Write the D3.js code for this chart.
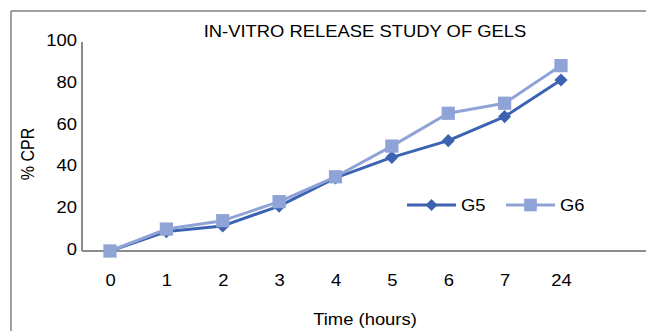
<!DOCTYPE html>
<html>
<head>
<meta charset="utf-8">
<script src="https://cdn.jsdelivr.net/npm/d3@7"></script>
<style>
  body { margin: 0; background: #fff; }
  text { font-family: "Liberation Sans", Arial, sans-serif; fill: #000; }
</style>
</head>
<body>
<div id="chart"></div>
<script>
// donnees
const heures = ["0", "1", "2", "3", "4", "5", "6", "7", "24"];
const g5 = [0, 9.3, 12, 21.5, 35, 44.8, 52.8, 64.3, 81.8];
const g6 = [0, 10.5, 14.5, 23.6, 35.5, 50.2, 65.9, 70.7, 88.7];
const yTicks = [0, 20, 40, 60, 80, 100];
const seriesNames = ["G5", "G6"];

const W = 646, H = 331;
const stretch = 1.15; // le texte de l'image est un peu etire en largeur
const colG5 = "#3b63b1", colG6 = "#8fa3d6";

const svg = d3.select("#chart").append("svg")
  .attr("width", W).attr("height", H);

// cadre exterieur
svg.append("path")
  .attr("d", `M11,${H} L11,11 L${W},11`)
  .attr("fill", "none").attr("stroke", "#444").attr("stroke-width", 1);

// echelles
const x = d3.scalePoint().domain(heures).range([110, 561]);
const y = d3.scaleLinear().domain([0, 100]).range([251, 42]);

// helper pour texte etire
function txt(sel, tx, ty, s, size, anchor, rot) {
  return sel.append("text")
    .attr("transform", `translate(${tx},${ty}) scale(${stretch},1)` + (rot ? ` rotate(${rot})` : ""))
    .attr("text-anchor", anchor)
    .style("font-size", size + "px")
    .text(s);
}

// axe Y
const yAxis = svg.append("g")
  .attr("transform", "translate(82,0)")
  .call(d3.axisLeft(y).tickValues(yTicks).tickSize(0).tickPadding(0));
yAxis.select(".domain").remove();
yAxis.selectAll("text").remove();
yAxis.selectAll(".tick").each(function(d) {
  txt(d3.select(this), -5, 3.5, d, 16, "end");
});
svg.append("line")
  .attr("x1", 82).attr("x2", 82).attr("y1", y(100)).attr("y2", y(0))
  .attr("stroke", "#8c8c8c").attr("stroke-width", 2);

// axe X
const xAxis = svg.append("g")
  .attr("transform", `translate(0,${y(0)})`)
  .call(d3.axisBottom(x).tickSize(0));
xAxis.select(".domain").remove();
xAxis.selectAll("text").remove();
xAxis.selectAll(".tick").each(function(d) {
  txt(d3.select(this), 0, 34.5, d, 16, "middle");
});
svg.append("line")
  .attr("x1", 82).attr("x2", W).attr("y1", y(0)).attr("y2", y(0))
  .attr("stroke", "#8c8c8c").attr("stroke-width", 2);

// titres
txt(svg, 365, 36.5, "IN-VITRO RELEASE STUDY OF GELS", 16, "middle");
txt(svg, 365, 325, "Time (hours)", 16, "middle");
txt(svg, 34, 154, "% CPR", 16, "middle", -90);

// series
const diamond = d3.symbol().type(d3.symbolDiamond2).size(110);
const square = d3.symbol().type(d3.symbolSquare).size(175);
const series = [
  { name: seriesNames[0], vals: g5, col: colG5, sym: diamond },
  { name: seriesNames[1], vals: g6, col: colG6, sym: square }
];

const line = d3.line().x((d, i) => x(heures[i])).y(d => y(d));

series.forEach(s => {
  svg.append("path")
    .datum(s.vals)
    .attr("d", line)
    .attr("fill", "none")
    .attr("stroke", s.col)
    .attr("stroke-width", 3)
    .attr("stroke-linejoin", "round");
  svg.append("g").selectAll("path")
    .data(s.vals)
    .join("path")
    .attr("d", s.sym)
    .attr("transform", (d, i) => `translate(${x(heures[i])},${y(d)})`)
    .attr("fill", s.col);
});

// legende
const legX = [407, 506];
series.forEach((s, i) => {
  const g = svg.append("g").attr("transform", `translate(${legX[i]},205)`);
  g.append("line").attr("x1", 0).attr("x2", 49)
    .attr("stroke", s.col).attr("stroke-width", 3);
  g.append("path").attr("d", i === 0 ? d3.symbol().type(d3.symbolDiamond2).size(90)() : d3.symbol().type(d3.symbolSquare).size(160)())
    .attr("transform", "translate(24.5,0)")
    .attr("fill", s.col);
  txt(g, 54, 5.5, s.name, 16, "start");
});
</script>
</body>
</html>
